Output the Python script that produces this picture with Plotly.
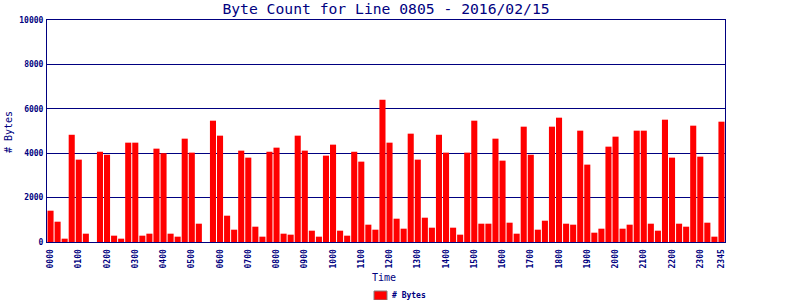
import plotly.graph_objects as go

times = [f"{h:02d}{m:02d}" for h in range(24) for m in (0, 15, 30, 45)]

byte_counts = [
    1410, 915, 150, 4830, 3710, 375, 0, 4065,
    3930, 285, 150, 4475, 4475, 285, 375, 4205,
    4000, 375, 240, 4655, 4025, 825, 0, 5465,
    4790, 1185, 555, 4115, 3800, 690, 240, 4065,
    4250, 375, 330, 4790, 4115, 510, 240, 3890,
    4385, 510, 285, 4065, 3620, 780, 555, 6410,
    4475, 1050, 600, 4880, 3710, 1095, 645, 4830,
    4025, 645, 330, 4025, 5465, 825, 825, 4655,
    3665, 870, 375, 5195, 3930, 555, 960, 5195,
    5600, 825, 780, 5015, 3485, 420, 600, 4295,
    4745, 600, 780, 5015, 5015, 825, 510, 5510,
    3800, 825, 690, 5240, 3845, 870, 240, 5420,
]

tick_labels = ["0000", "0100", "0200", "0300", "0400", "0500", "0600", "0700",
               "0800", "0900", "1000", "1100", "1200", "1300", "1400", "1500",
               "1600", "1700", "1800", "1900", "2000", "2100", "2200", "2300", "2345"]

y_ticks = [0, 2000, 4000, 6000, 8000, 10000]
y_tick_text = ["0", "2000", "4000", "6000", "8000", "10000"]

NAVY = "#000080"
MONO = "DejaVu Sans Mono, Liberation Mono, monospace"

# plot area in pixels
L, R, T, B = 47, 725, 20, 242
PW, PH = R - L, B - T


def px(xp):
    return (xp - L) / PW


def py(yp):
    return (B - yp) / PH


fig = go.Figure()
fig.add_trace(go.Bar(
    x=times, y=byte_counts, name="# Bytes",
    marker=dict(color="#FF0000", line=dict(width=0)),
    showlegend=False,
))

fig.update_layout(
    width=800, height=300,
    margin=dict(l=L, r=800 - R, t=T, b=300 - B, autoexpand=False),
    paper_bgcolor="white", plot_bgcolor="white",
    bargap=0.14,
    title=dict(text="Byte Count for Line 0805 - 2016/02/15",
               font=dict(family=MONO, size=14.7, color=NAVY),
               x=0.5, xanchor="center", xref="paper", y=0.97, yanchor="middle"),
    xaxis=dict(
        type="category", categoryorder="array", categoryarray=times,
        range=[-0.5, 95.5], automargin=False,
        tickmode="array", tickvals=tick_labels, ticktext=tick_labels,
        tickangle=-90,
        tickfont=dict(family=MONO, size=8, color=NAVY, weight="bold"),
        showline=True, linecolor=NAVY, linewidth=1, mirror=True,
        showgrid=False, ticks="outside", ticklen=3, tickcolor="rgba(0,0,0,0)",
    ),
    yaxis=dict(
        range=[0, 10000], tickmode="array", tickvals=y_ticks, ticktext=y_tick_text,
        automargin=False,
        tickfont=dict(family=MONO, size=8, color=NAVY, weight="bold"),
        showline=True, linecolor=NAVY, linewidth=1, mirror=True,
        showgrid=True, gridcolor=NAVY, gridwidth=1,
        zeroline=False, ticks="outside", ticklen=1, tickcolor="rgba(0,0,0,0)",
    ),
    shapes=[dict(type="rect", xref="paper", yref="paper",
                 x0=px(374), x1=px(387), y0=py(300), y1=py(291),
                 fillcolor="#FF0000", line=dict(color="#808080", width=1))],
    annotations=[
        dict(text="Time", xref="paper", yref="paper", x=px(384), y=py(277),
             xanchor="center", yanchor="middle", showarrow=False,
             font=dict(family=MONO, size=10, color=NAVY)),
        dict(text="# Bytes", xref="paper", yref="paper", x=px(8), y=py(132),
             xanchor="center", yanchor="middle", showarrow=False, textangle=-90,
             font=dict(family=MONO, size=10, color=NAVY)),
        dict(text="# Bytes", xref="paper", yref="paper", x=px(390), y=py(295.5),
             xanchor="left", yanchor="middle", showarrow=False,
             font=dict(family=MONO, size=8, color=NAVY, weight="bold")),
    ],
)

fig.write_html("out.html")
